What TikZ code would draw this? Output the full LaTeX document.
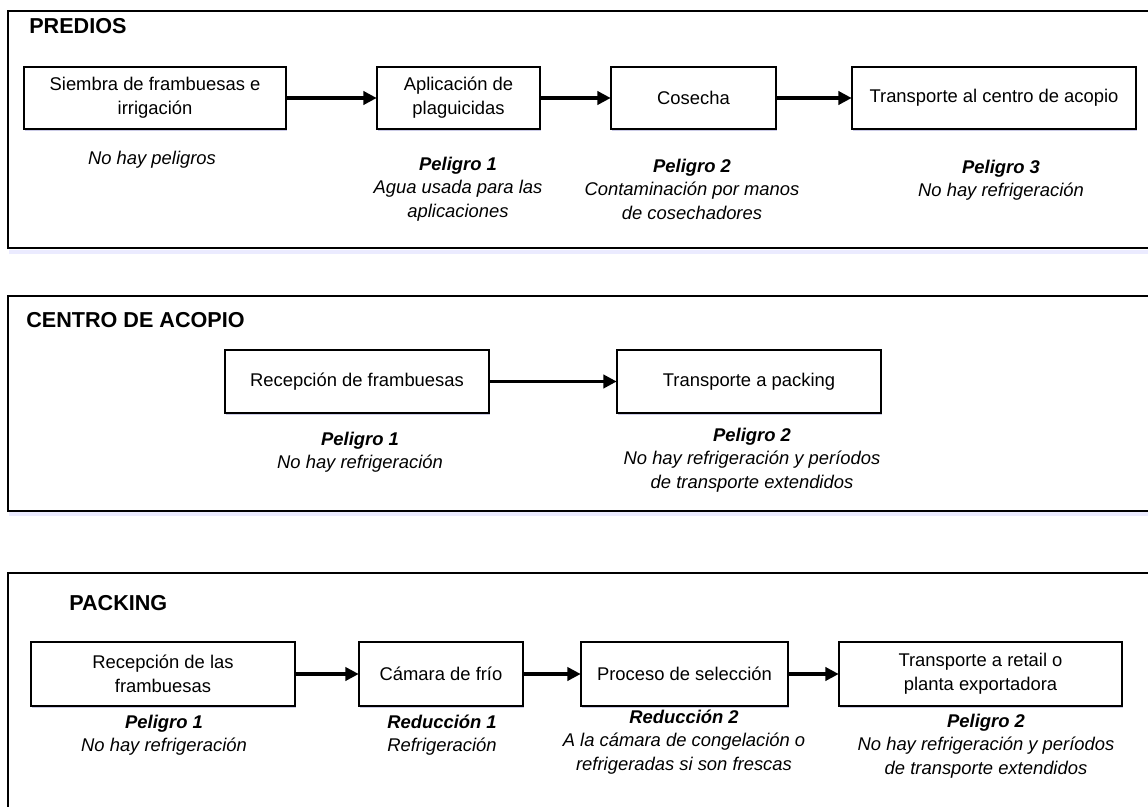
\documentclass[tikz,border=0pt]{standalone}
\usepackage{fontspec}
\setmainfont{Liberation Sans}
\usetikzlibrary{arrows.meta,shadows}
\begin{document}
\begin{tikzpicture}[x=0.75pt,y=-0.75pt,
  panel/.style={line width=1.6pt,line cap=rect},
  pshadow/.style={line width=2.5pt,blue!8},
  title/.style={anchor=west,inner sep=0pt,font=\fontsize{16.2pt}{18pt}\selectfont\bfseries},
  stepbox/.style={draw,line width=1.5pt,fill=white,align=center,inner sep=2pt,
     font=\fontsize{13.8pt}{18pt}\selectfont,
     drop shadow={shadow xshift=0.6pt,shadow yshift=-1.2pt,fill=blue!35!gray,opacity=0.3}},
  note/.style={align=center,inner sep=0pt,font=\fontsize{13.8pt}{17.6pt}\selectfont\itshape},
  flow/.style={line width=2.3pt,-{Triangle[length=10pt,width=10pt]},shorten >=-0.5pt}]
\useasboundingbox (0,0) rectangle (1148,806);
% panel shadows
\draw[pshadow] (9,252) -- (1148,252);
\draw[pshadow] (9,514) -- (1148,514);
% panels
\draw[panel] (1148,11) -- (8,11) -- (8,248) -- (1148,248);
\draw[panel] (1148,296) -- (8,296) -- (8,511) -- (1148,511);
\draw[panel] (1148,573) -- (8,573) -- (8,806);
% titles
\node[title] (t1) at (29,26.5) {PREDIOS};
\node[title] (t2) at (26,320) {CENTRO DE ACOPIO};
\node[title] (t3) at (69,603) {PACKING};
% row 1
\node[stepbox,minimum width=196.5pt,minimum height=46.5pt] (a) at (155,98) {Siembra de frambuesas e\\irrigación};
\node[stepbox,minimum width=122.25pt,minimum height=46.5pt] (b) at (458.5,98) {Aplicación de\\plaguicidas};
\node[stepbox,minimum width=123.75pt,minimum height=46.5pt] (c) at (693.5,98) {Cosecha};
\node[stepbox,minimum width=213pt,minimum height=46.5pt] (d) at (994,98) {Transporte al centro de acopio};
\draw[flow] (a) -- (b);
\draw[flow] (b) -- (c);
\draw[flow] (c) -- (d);
\node[note] (l1) at (152,160) {No hay peligros};
\node[note] (l2) at (458,189) {\textbf{Peligro 1}\\Agua usada para las\\aplicaciones};
\node[note] (l3) at (692,189) {\textbf{Peligro 2}\\Contaminación por manos\\de cosechadores};
\node[note] (l4) at (1001,180.5) {\textbf{Peligro 3}\\No hay refrigeración};
% row 2
\node[stepbox,minimum width=198pt,minimum height=47.25pt] (e) at (357,381.5) {Recepción de frambuesas};
\node[stepbox,minimum width=198pt,minimum height=47.25pt] (f) at (749,381.5) {Transporte a packing};
\draw[flow] (e) -- (f);
\node[note] (l5) at (360,452) {\textbf{Peligro 1}\\No hay refrigeración};
\node[note] (l6) at (752,460) {\textbf{Peligro 2}\\No hay refrigeración y períodos\\de transporte extendidos};
% row 3
\node[stepbox,minimum width=198pt,minimum height=48pt] (g) at (163,674) {Recepción de las\\frambuesas};
\node[stepbox,minimum width=123pt,minimum height=48pt] (h) at (441,674) {Cámara de frío};
\node[stepbox,minimum width=155.25pt,minimum height=48pt] (i) at (684.5,674) {Proceso de selección};
\node[stepbox,minimum width=212.25pt,minimum height=48pt] (j) at (980.5,674) {Transporte a retail o\\planta exportadora};
\draw[flow] (g) -- (h);
\draw[flow] (h) -- (i);
\draw[flow] (i) -- (j);
\node[note] (l7) at (164,735) {\textbf{Peligro 1}\\No hay refrigeración};
\node[note] (l8) at (442,735) {\textbf{Reducción 1}\\Refrigeración};
\node[note] (l9) at (684,742) {\textbf{Reducción 2}\\A la cámara de congelación o\\refrigeradas si son frescas};
\node[note] (l10) at (986,746) {\textbf{Peligro 2}\\No hay refrigeración y períodos\\de transporte extendidos};
\end{tikzpicture}
\end{document}
